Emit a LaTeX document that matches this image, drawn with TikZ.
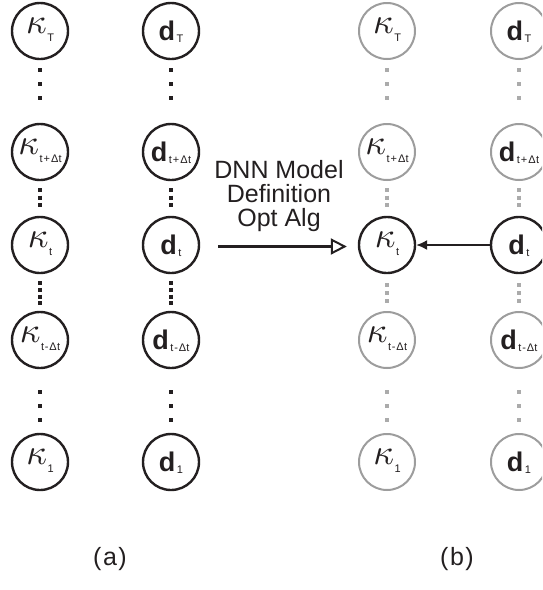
\documentclass[tikz,border=0pt]{standalone}
\usepackage{fontspec}
\setmainfont{Liberation Sans}
\usetikzlibrary{arrows.meta}

\definecolor{ink}{HTML}{231F20}
\definecolor{fade}{HTML}{9D9D9D}
\definecolor{fadedot}{HTML}{ABABAB}

% subscript text, kappa label and bold d label (zero-size boxes centred on the node)
\newcommand\subtxt[1]{{\fontsize{11}{11}\selectfont #1}}
\newcommand\kaplbl[1]{\smash{\makebox[0pt]{\raisebox{-2pt}{\scalebox{3.6}{$\kappa$}}\kern0.5pt\raisebox{-10pt}{\subtxt{#1}}}}}
\newcommand\dlbl[1]{\smash{\makebox[0pt]{\raisebox{-9pt}{\fontsize{27}{27}\selectfont\bfseries d}\kern1.5pt\raisebox{-11pt}{\subtxt{#1}}}}}
\newcommand\tpd{t\kern1pt+\kern1ptΔ\kern0.3ptt}
\newcommand\tmd{t\kern0.8pt-\kern0.8ptΔ\kern0.3ptt}

\begin{document}
\begin{tikzpicture}[x=1pt,y=-1pt,
  var/.style={circle, draw=ink, line width=2.4pt, minimum size=56pt, inner sep=0pt, text=ink},
  fvar/.style={circle, draw=fade, line width=2pt, minimum size=56pt, inner sep=0pt, text=ink},
  dotwide/.style={draw=ink, line width=4pt, dash pattern=on 4pt off 10pt},
  dotmid/.style={draw=ink, line width=4pt, dash pattern=on 4pt off 3.5pt},
  dotdense/.style={draw=ink, line width=4pt, dash pattern=on 4pt off 2.67pt},
  fdotwide/.style={draw=fadedot, line width=4pt, dash pattern=on 4pt off 10pt},
  fdotmid/.style={draw=fadedot, line width=4pt, dash pattern=on 4pt off 3.5pt},
  fdotdense/.style={draw=fadedot, line width=4pt, dash pattern=on 4pt off 4pt},
  caption/.style={text=ink, font=\fontsize{25}{25}\selectfont}]

\useasboundingbox (0,0) rectangle (542,590);
\clip (0,0) rectangle (542,590);

% ---- (a): kappa and d sequences ----
\node[var] (kT) at (40,31)  {\kaplbl{T}};
\node[var] (kU) at (40,152) {\kaplbl{\tpd}};
\node[var] (kt) at (40,245) {\kaplbl{t}};
\node[var] (kL) at (40,340) {\kaplbl{\tmd}};
\node[var] (k1) at (40,462) {\kaplbl{1}};

\node[var] (dT) at (171,31)  {\dlbl{T}};
\node[var] (dU) at (171,152) {\dlbl{\tpd}};
\node[var] (dt) at (171,245) {\dlbl{t}};
\node[var] (dL) at (171,340) {\dlbl{\tmd}};
\node[var] (d1) at (171,462) {\dlbl{1}};

\foreach \c in {k,d}{
  \draw[dotwide]  ([yshift=-8pt]\c T.south) -- ++(0,32);
  \draw[dotmid]   ([yshift=-7pt]\c U.south) -- ++(0,19);
  \draw[dotdense] ([yshift=-7pt]\c t.south) -- ++(0,24);
  \draw[dotwide]  ([yshift=-21pt]\c L.south) -- ++(0,32);
}

% ---- (b): only time t is active ----
\node[fvar] (rkT) at (387,31)  {\kaplbl{T}};
\node[fvar] (rkU) at (387,152) {\kaplbl{\tpd}};
\node[var]  (rkt) at (387,245) {\kaplbl{t}};
\node[fvar] (rkL) at (387,340) {\kaplbl{\tmd}};
\node[fvar] (rk1) at (387,462) {\kaplbl{1}};

\node[fvar] (rdT) at (519,31)  {\dlbl{T}};
\node[fvar] (rdU) at (519,152) {\dlbl{\tpd}};
\node[var]  (rdt) at (519,245) {\dlbl{t}};
\node[fvar] (rdL) at (519,340) {\dlbl{\tmd}};
\node[fvar] (rd1) at (519,462) {\dlbl{1}};

\foreach \c in {rk,rd}{
  \draw[fdotwide]  ([yshift=-8pt]\c T.south) -- ++(0,32);
  \draw[fdotmid]   ([yshift=-7pt]\c U.south) -- ++(0,19);
  \draw[fdotdense] ([yshift=-9pt]\c t.south) -- ++(0,20);
  \draw[fdotwide]  ([yshift=-21pt]\c L.south) -- ++(0,32);
}

% ---- transformation and dependency ----
\node[text=ink, align=center, font=\fontsize{25}{24}\selectfont] (alg) at (279,196)
  {DNN Model\\Definition\\Opt Alg};
\draw[ink, line width=2.2pt, -{Triangle[open, length=16pt, width=16pt, line width=2pt]},
  shorten <=18pt, shorten >=11pt] ([yshift=-1.5pt]dt.east) -- ([yshift=-1.5pt]rkt.west);
\draw[ink, line width=1.6pt, -{Latex[length=11pt, width=10pt]}] (rdt.west) -- (rkt.east);

\node[caption] (capA) at (110,559) {(\kern1.5pt a\kern1.5pt)};
\node[caption] (capB) at (457,559) {(\kern1.5pt b\kern1.5pt)};
\end{tikzpicture}
\end{document}
